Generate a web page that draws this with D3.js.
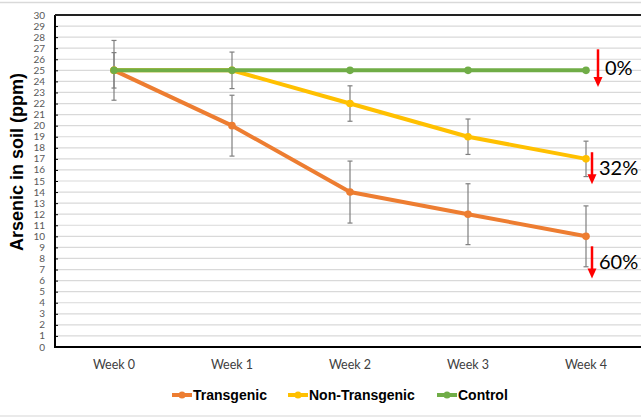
<!DOCTYPE html>
<meta charset="utf-8">
<style>
  body { margin: 0; background: #fff; }
  svg { display: block; }
</style>
<body>
<svg width="641" height="419"></svg>
<script src="https://d3js.org/d3.v7.min.js"></script>
<script>
// values
var weeks = ["Week 0", "Week 1", "Week 2", "Week 3", "Week 4"];
var seriesNames = ["Transgenic", "Non-Transgenic", "Control"];
var seriesColors = ["#ED7D31", "#FFC000", "#70AD47"];
var transgenic = [25, 20, 14, 12, 10];
var transgenicErr = [2.7, 2.75, 2.8, 2.75, 2.75];
var nonTransgenic = [25, 25, 22, 19, 17];
var nonTransgenicErr = [1.6, 1.65, 1.6, 1.6, 1.6];
var control = [25, 25, 25, 25, 25];
var controlErr = [0, 0, 0, 0, 0];
var yTicks = d3.range(0, 31);
// percent drops next to week 4, arrows given in ppm
var dropLabels = ["0%", "32%", "60%"];
var dropArrowTop = [26.9, 17.6, 9.1];
var dropArrowBottom = [23.5, 14.7, 6.2];

var svg = d3.select("svg"),
    width = +svg.attr("width"),
    height = +svg.attr("height");

var plotLeft = 55, plotTop = 15, plotBottom = 347, plotRight = 645;

var x = d3.scaleBand().domain(weeks).range([plotLeft, plotRight]).padding(0);
var y = d3.scaleLinear().domain([0, 30]).range([plotBottom, plotTop]);
function cx(w) { return x(w) + x.bandwidth() / 2; }

// outer chart frame lines
svg.append("line").attr("x1", 0).attr("x2", width).attr("y1", 2.5).attr("y2", 2.5)
    .attr("stroke", "#d9d9d9").attr("stroke-width", 1.5);
svg.append("line").attr("x1", 0).attr("x2", width).attr("y1", 416).attr("y2", 416)
    .attr("stroke", "#e3e3e3").attr("stroke-width", 1.5);

// gridlines
svg.append("g").selectAll("line")
    .data(yTicks.filter(function(d) { return d > 0 && d < 30; }))
    .enter().append("line")
    .attr("x1", plotLeft).attr("x2", width)
    .attr("y1", function(d) { return y(d); })
    .attr("y2", function(d) { return y(d); })
    .attr("stroke", "#d9d9d9")
    .attr("stroke-width", 1.2);

// y axis ticks (pointing inward) and labels
var yAxis = d3.axisRight(y).tickValues(yTicks).tickSize(3).tickFormat("");
var ya = svg.append("g").attr("transform", "translate(" + plotLeft + ",0)").call(yAxis);
ya.select(".domain").remove();
ya.selectAll("line").attr("stroke", "#000");

svg.append("g").selectAll("text")
    .data(yTicks)
    .enter().append("text")
    .attr("x", 45)
    .attr("y", function(d) { return y(d) + 3.5; })
    .attr("text-anchor", "end")
    .attr("font-family", "Lato, 'Open Sans', sans-serif")
    .attr("font-size", 10)
    .attr("fill", "#595959")
    .text(function(d) { return d; });

// plot frame
svg.append("line").attr("x1", plotLeft).attr("x2", plotLeft).attr("y1", plotTop).attr("y2", plotBottom)
    .attr("stroke", "#000").attr("stroke-width", 2);
svg.append("line").attr("x1", plotLeft).attr("x2", width).attr("y1", plotTop).attr("y2", plotTop)
    .attr("stroke", "#222").attr("stroke-width", 2);
svg.append("line").attr("x1", plotLeft - 1).attr("x2", width).attr("y1", plotBottom).attr("y2", plotBottom)
    .attr("stroke", "#000").attr("stroke-width", 2);

// x labels
var xAxis = d3.axisBottom(x).tickSize(0).tickPadding(13);
var xa = svg.append("g").attr("transform", "translate(0," + plotBottom + ")").call(xAxis);
xa.select(".domain").remove();
xa.selectAll("text")
    .attr("font-family", "Lato, 'Open Sans', sans-serif")
    .attr("font-size", 12.5)
    .attr("fill", "#404040");

// y title
svg.append("text")
    .attr("transform", "translate(23,162) rotate(-90)")
    .attr("text-anchor", "middle")
    .attr("font-family", "'Liberation Sans', Arial, sans-serif")
    .attr("font-weight", "bold")
    .attr("font-size", 18)
    .attr("fill", "#000")
    .text("Arsenic in soil (ppm)");

var series = [
    { name: seriesNames[0], color: seriesColors[0], values: transgenic, err: transgenicErr },
    { name: seriesNames[1], color: seriesColors[1], values: nonTransgenic, err: nonTransgenicErr },
    { name: seriesNames[2], color: seriesColors[2], values: control, err: controlErr }
];

// error bars
series.forEach(function(s) {
    var g = svg.append("g").attr("stroke", "#7f7f7f").attr("stroke-width", 1.2);
    weeks.forEach(function(w, i) {
        if (s.err[i] <= 0) return;
        var hi = y(s.values[i] + s.err[i]), lo = y(s.values[i] - s.err[i]), c = cx(w);
        g.append("line").attr("x1", c).attr("x2", c).attr("y1", hi).attr("y2", lo);
        g.append("line").attr("x1", c - 2.5).attr("x2", c + 2.5).attr("y1", hi).attr("y2", hi);
        g.append("line").attr("x1", c - 2.5).attr("x2", c + 2.5).attr("y1", lo).attr("y2", lo);
    });
});

// lines and markers
var line = d3.line()
    .x(function(d, i) { return cx(weeks[i]); })
    .y(function(d) { return y(d); });

series.forEach(function(s) {
    svg.append("path")
        .datum(s.values)
        .attr("fill", "none")
        .attr("stroke", s.color)
        .attr("stroke-width", 4)
        .attr("stroke-linejoin", "round")
        .attr("d", line);
    svg.append("g").selectAll("circle")
        .data(s.values)
        .enter().append("circle")
        .attr("cx", function(d, i) { return cx(weeks[i]); })
        .attr("cy", function(d) { return y(d); })
        .attr("r", 3.8)
        .attr("fill", s.color);
});

// drop annotations
var arrowX = [cx("Week 4") + 12, cx("Week 4") + 6, cx("Week 4") + 6];
var labelX = [605, 599, 599];
dropLabels.forEach(function(label, i) {
    var t = y(dropArrowTop[i]), b = y(dropArrowBottom[i]), ax = arrowX[i];
    svg.append("line").attr("x1", ax).attr("x2", ax).attr("y1", t).attr("y2", b - 8)
        .attr("stroke", "#FF0000").attr("stroke-width", 2.5);
    svg.append("path")
        .attr("d", "M" + (ax - 4.5) + "," + (b - 10) + "L" + (ax + 4.5) + "," + (b - 10) + "L" + ax + "," + b + "Z")
        .attr("fill", "#FF0000");
    svg.append("text")
        .attr("x", labelX[i])
        .attr("y", (t + b) / 2 + 7)
        .attr("font-family", "Lato, 'Open Sans', sans-serif")
        .attr("font-size", 20)
        .attr("fill", "#000")
        .text(label);
});

// legend
var legendX = [172, 288, 437];
var legend = svg.append("g").selectAll("g")
    .data(series)
    .enter().append("g")
    .attr("transform", function(d, i) { return "translate(" + legendX[i] + ",395)"; });
legend.append("line").attr("x1", 0).attr("x2", 20).attr("y1", 0).attr("y2", 0)
    .attr("stroke", function(d) { return d.color; }).attr("stroke-width", 4);
legend.append("circle").attr("cx", 10).attr("cy", 0).attr("r", 3.5)
    .attr("fill", function(d) { return d.color; });
legend.append("text")
    .attr("x", 21)
    .attr("y", 5)
    .attr("font-family", "'Liberation Sans', Arial, sans-serif")
    .attr("font-weight", "bold")
    .attr("font-size", 14)
    .attr("fill", "#000")
    .text(function(d) { return d.name; });
</script>
</body>
